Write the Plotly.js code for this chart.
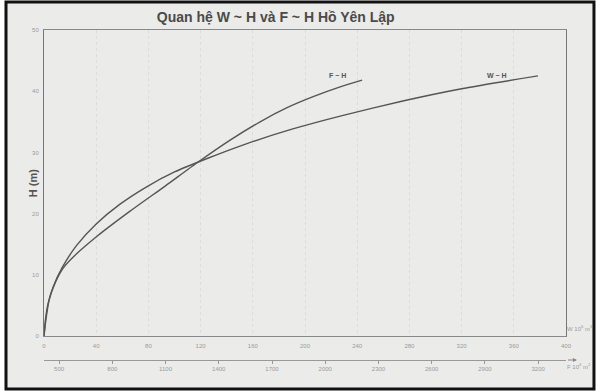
<!DOCTYPE html>
<html>
<head>
<meta charset="utf-8">
<script src="https://cdn.plot.ly/plotly-3.0.1.min.js"></script>
<style>html,body{margin:0;padding:0;background:#fff;}#chart{width:601px;height:392px;}</style>
</head>
<body>
<div id="chart"></div>
<script>
// W ~ H relation (W in 10^6 m3)
var wValues = [0, 1, 3, 7, 14, 25, 40, 58, 78, 100, 125, 155, 190, 230, 275, 320, 378.5];
var hOfW    = [0, 2.5, 5.2, 8.0, 11.2, 14.8, 18.3, 21.5, 24.3, 26.8, 29.0, 31.4, 33.8, 36.1, 38.4, 40.4, 42.5];
// F ~ H relation (F in 10^4 m2)
var fValues = [415, 427, 444, 478, 523, 590, 714, 900, 1098, 1278, 1464, 1633, 1785, 1932, 2084, 2208];
var hOfF    = [0, 2.9, 5.9, 8.7, 11.1, 13.2, 16.3, 20.4, 24.5, 28.3, 32.0, 35.0, 37.3, 39.1, 40.7, 41.8];
// tick labels
var wTicks = [0, 40, 80, 120, 160, 200, 240, 280, 320, 360, 400];
var fTicks = [500, 800, 1100, 1400, 1700, 2000, 2300, 2600, 2900, 3200];
var hTicks = [0, 10, 20, 30, 40, 50];

var lineStyle = {color: '#555', width: 1.4, shape: 'spline', smoothing: 0.6};
var traces = [
  {x: wValues, y: hOfW, type: 'scatter', mode: 'lines', line: lineStyle, xaxis: 'x', yaxis: 'y', name: 'W ~ H'},
  {x: fValues, y: hOfF, type: 'scatter', mode: 'lines', line: lineStyle, xaxis: 'x2', yaxis: 'y', name: 'F ~ H'}
];

var tickFont = {family: 'Liberation Sans, Arial, sans-serif', size: 6, color: '#9a9a9a'};
var layout = {
  width: 601, height: 392,
  margin: {l: 44, r: 35, t: 30, b: 24},
  paper_bgcolor: '#ffffff',
  plot_bgcolor: '#ebebe9',
  showlegend: false,
  title: {text: 'Quan hệ W ~ H và F ~ H Hồ Yên Lập', x: 0.444, xref: 'paper', xanchor: 'center', y: 0.957, yanchor: 'middle',
          font: {family: 'Liberation Sans, Arial, sans-serif', size: 14, color: '#4a4a4a', weight: 'bold'}},
  xaxis: {range: [0, 400], tickvals: wTicks, ticktext: wTicks.map(String), tickfont: tickFont,
          showline: true, linecolor: '#888', linewidth: 1, mirror: true, ticks: '', ticklabelstandoff: 4,
          showgrid: true, gridcolor: '#dcdcda', griddash: 'dot', gridwidth: 1, zeroline: false, fixedrange: true},
  xaxis2: {overlaying: 'x', anchor: 'free', position: 0.0237, side: 'bottom', range: [415, 3357],
           tickvals: fTicks, ticktext: fTicks.map(String), tickfont: tickFont,
           showline: true, linecolor: '#999', linewidth: 1, ticks: 'outside', ticklen: 3, tickcolor: '#999',
           showgrid: false, zeroline: false},
  yaxis: {domain: [0.0947, 1], range: [0, 50], tickvals: hTicks, ticktext: hTicks.map(String), tickfont: tickFont,
          showline: true, linecolor: '#777', linewidth: 1, mirror: true, ticks: '', ticklabelstandoff: 3,
          showgrid: false, zeroline: false},
  shapes: [
    {type: 'rect', xref: 'paper', yref: 'paper', x0: -0.0728, x1: 1.0536, y0: -0.062, y1: 1.083,
     line: {color: '#111', width: 3}, fillcolor: '#ebebe9', layer: 'below'}
  ],
  annotations: [
    {text: '<b>H (m)</b>', xref: 'paper', yref: 'paper', x: -0.021, y: 0.547, xanchor: 'center', yanchor: 'middle',
     textangle: -90, showarrow: false,
     font: {family: 'Liberation Sans, Arial, sans-serif', size: 11, color: '#555'}},
    {text: '<b>F ~ H</b>', xref: 'x', yref: 'y', x: 225, y: 42.6, showarrow: false,
     font: {family: 'Liberation Sans, Arial, sans-serif', size: 7, color: '#555'}},
    {text: '<b>W ~ H</b>', xref: 'x', yref: 'y', x: 347, y: 42.5, showarrow: false,
     font: {family: 'Liberation Sans, Arial, sans-serif', size: 7, color: '#555'}},
    {text: 'W 10<sup>6</sup> m<sup>3</sup>', xref: 'paper', yref: 'paper', x: 0.998, y: 0.10, xanchor: 'left', showarrow: false,
     font: {family: 'Liberation Sans, Arial, sans-serif', size: 6, color: '#9a9a9a'}},
    {text: 'F 10<sup>4</sup> m<sup>2</sup>', xref: 'paper', yref: 'paper', x: 0.998, y: -0.012, xanchor: 'left', showarrow: false,
     font: {family: 'Liberation Sans, Arial, sans-serif', size: 6, color: '#9a9a9a'}},
    {text: ' ', xref: 'paper', yref: 'paper', x: 1.021, y: 0.0237, ax: -12, ay: 0, showarrow: true,
     arrowhead: 2, arrowsize: 0.8, arrowwidth: 1, arrowcolor: '#888'}
  ]
};
Plotly.newPlot('chart', traces, layout, {staticPlot: true, displayModeBar: false});
</script>
</body>
</html>
